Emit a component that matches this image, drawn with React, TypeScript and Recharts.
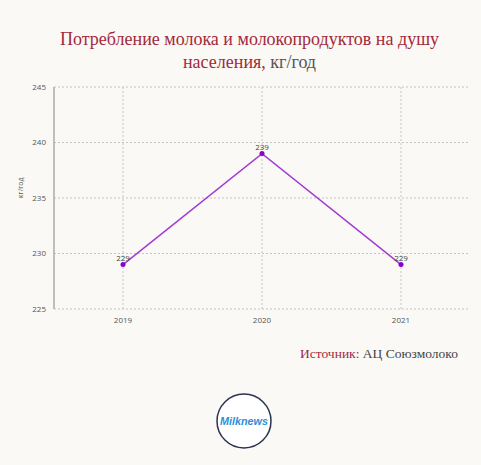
import React from 'react';
import { LineChart, Line, XAxis, YAxis, LabelList, ReferenceLine } from 'recharts';

const years = ['2019', '2020', '2021'];
const consumption = [229, 239, 229];
const yTicks = [225, 230, 235, 240, 245];

const data = years.map((year, i) => ({ year, value: consumption[i] }));

const App = () => {
  return (
    <div style={{ position: 'absolute', left: 0, top: 0, width: 481, height: 465, background: '#faf9f6', overflow: 'hidden' }}>
      {/* Title */}
      <div
        style={{
          position: 'absolute', top: 28, left: 9, width: 481, textAlign: 'center',
          fontFamily: '"Liberation Serif", "DejaVu Serif", serif', fontSize: 18, lineHeight: '23px', color: '#a3293b',
        }}
      >
        Потребление молока и молокопродуктов на душу
        <br />
        населения, <span style={{ color: '#555' }}>кг/год</span>
      </div>

      <div style={{ position: 'absolute', left: 0, top: 0 }}>
        <LineChart width={481} height={340} data={data} margin={{ top: 87, right: 11, bottom: 11, left: 14 }}>
          {/* dashed grid only at the ticks */}
          {yTicks.map((v) => (
            <ReferenceLine key={'y' + v} y={v} stroke="#c4c4c4" strokeDasharray="2 2" />
          ))}
          {years.map((y) => (
            <ReferenceLine key={y} x={y} stroke="#c4c4c4" strokeDasharray="2 2" />
          ))}
          <XAxis
            dataKey="year"
            height={20}
            padding={{ left: 69, right: 69 }}
            axisLine={false}
            tickLine={false}
            tick={{ fontSize: 8, fill: '#555', fontFamily: '"Open Sans", sans-serif' }}
          />
          <YAxis
            width={40}
            domain={[225, 245]}
            ticks={yTicks}
            axisLine={{ stroke: '#aaa', strokeWidth: 1.5 }}
            tickLine={false}
            tick={{ fontSize: 8, fill: '#555', fontFamily: '"Open Sans", sans-serif' }}
            label={{ value: 'кг/год', angle: -90, position: 'insideLeft', offset: 7, fontSize: 7, fill: '#555', fontFamily: '"Open Sans", sans-serif' }}
          />
          <Line
            type="linear"
            dataKey="value"
            stroke="#a33bd6"
            strokeWidth={1.5}
            dot={{ r: 2.5, fill: '#8a00c8', stroke: '#8a00c8', strokeWidth: 0 }}
            isAnimationActive={false}
          >
            <LabelList dataKey="value" position="top" offset={4} fontSize={8} fill="#444" fontFamily='"Open Sans", sans-serif' />
          </Line>
        </LineChart>
      </div>

      {/* Source */}
      <div
        style={{
          position: 'absolute', top: 346, left: 300, fontFamily: '"Liberation Serif", "DejaVu Serif", serif',
          fontSize: 13.5, color: '#444', whiteSpace: 'nowrap',
        }}
      >
        <span style={{ color: '#a3293b' }}>Источник:</span> АЦ Союзмолоко
      </div>

      {/* Logo */}
      <svg style={{ position: 'absolute', left: 214, top: 391 }} width={60} height={60}>
        <circle cx={30} cy={30} r={27} fill="#fff" stroke="#2b3350" strokeWidth={1.5} />
        <text
          x={30} y={34} textAnchor="middle" fontSize={11} fontWeight="bold" fontStyle="italic"
          fill="#2e8fd8" fontFamily='"Liberation Sans", sans-serif' textLength={48} lengthAdjust="spacingAndGlyphs"
        >
          Milknews
        </text>
      </svg>
    </div>
  );
};

export default App;
